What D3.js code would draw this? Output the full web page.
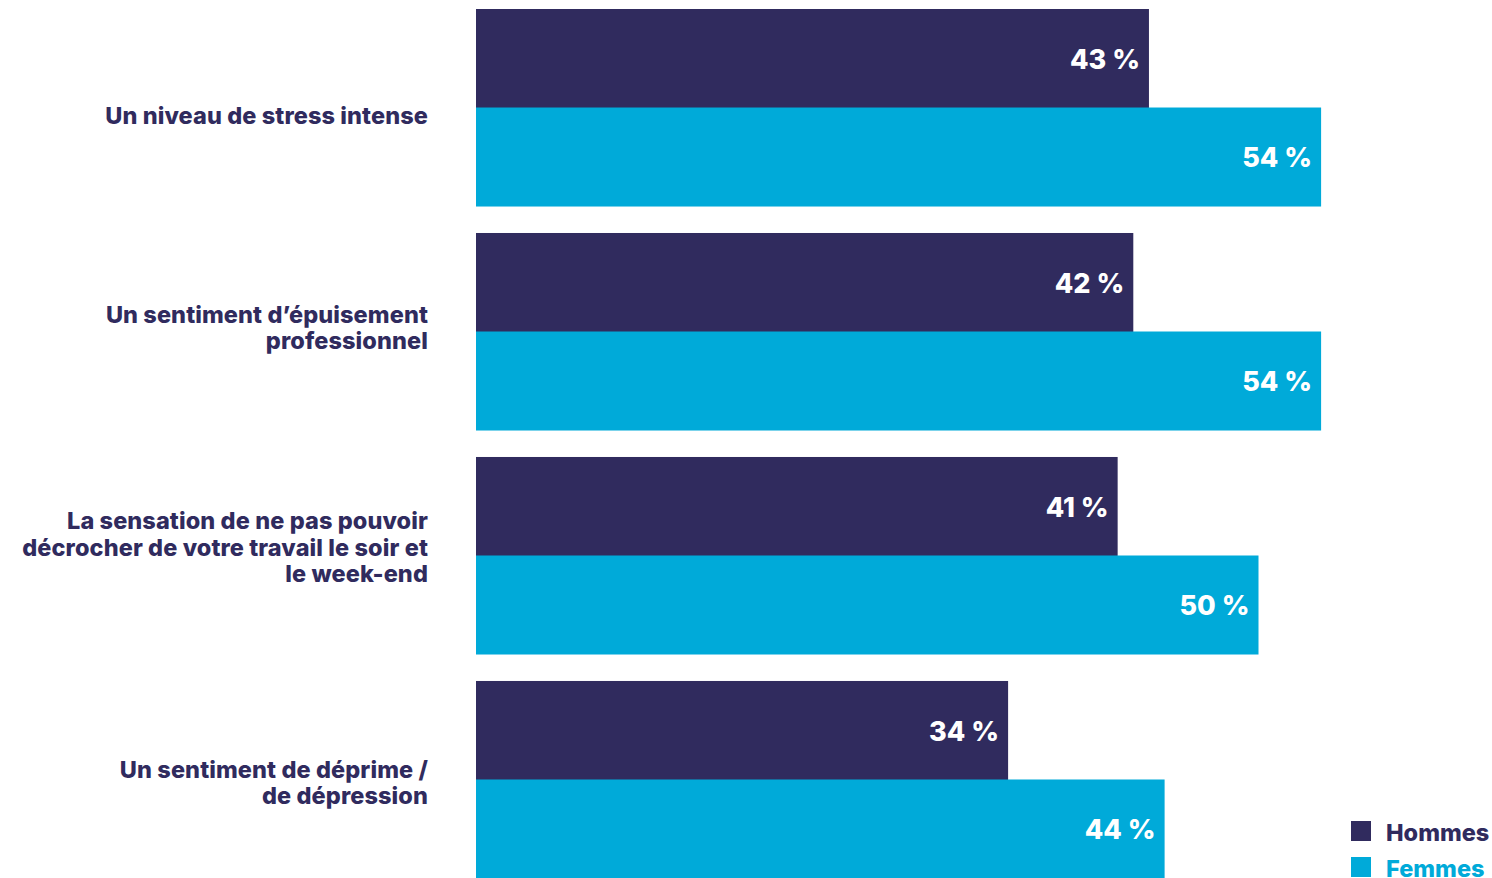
<!DOCTYPE html>
<html>
<head>
<meta charset="utf-8">
<script src="https://cdn.jsdelivr.net/npm/d3@7"></script>
<style>
  html, body { margin: 0; padding: 0; background: #ffffff; }
  svg { display: block; }
  text { font-family: Inter, "Noto Sans", sans-serif; }
</style>
</head>
<body>
<svg id="chart" width="1492" height="878"></svg>
<script>
// Survey items (each label split into its display lines)
const categories = [
  ["Un niveau de stress intense"],
  ["Un sentiment d’épuisement", "professionnel"],
  ["La sensation de ne pas pouvoir", "décrocher de votre travail le soir et", "le week-end"],
  ["Un sentiment de déprime /", "de dépression"]
];
const seriesNames = ["Hommes", "Femmes"];
const hommes = [43, 42, 41, 34];
const femmes = [54, 54, 50, 44];
const colors = ["#302b5e", "#00aad9"];

// Vertical nudge of each category label block (layout only)
const labelNudge = [8, -4, -8, 3];

const svg = d3.select("#chart");

const catKeys = categories.map(c => c.join(" "));
const y0 = d3.scaleBand().domain(catKeys).range([9, 878]).paddingInner(0.1204).paddingOuter(0);
const y1 = d3.scaleBand().domain(seriesNames).range([0, y0.bandwidth()]).padding(0);
const x = d3.scaleLinear().domain([0, 100]).range([476, 476 + 1565]);

const rows = catKeys.map((k, i) => ({ key: k, lines: categories[i], values: [hommes[i], femmes[i]], nudge: labelNudge[i] }));

const groups = svg.selectAll("g.group").data(rows).join("g")
  .attr("class", "group")
  .attr("transform", d => `translate(0,${y0(d.key)})`);

groups.selectAll("rect").data(d => d.values.map((v, j) => ({ v, s: seriesNames[j], j }))).join("rect")
  .attr("x", x(0))
  .attr("y", d => y1(d.s))
  .attr("width", d => x(d.v) - x(0))
  .attr("height", y1.bandwidth() + 0.5)
  .attr("fill", d => colors[d.j]);

groups.selectAll("text.val").data(d => d.values.map((v, j) => ({ v, s: seriesNames[j], j }))).join("text")
  .attr("class", "val")
  .attr("x", d => x(d.v) - 9)
  .attr("y", d => y1(d.s) + y1.bandwidth() / 2 + 1)
  .attr("dy", "0.36em")
  .attr("text-anchor", "end")
  .attr("fill", "#ffffff")
  .attr("font-size", 27)
  .attr("font-weight", 800)
  .text(d => d.v + " %");

// Category labels, right-aligned left of the bars
const lineH = 26.5;
groups.each(function(d) {
  const g = d3.select(this);
  const n = d.lines.length;
  const cy = y0.bandwidth() / 2 + d.nudge;
  const t = g.append("text")
    .attr("text-anchor", "end")
    .attr("fill", "#302b5e")
    .attr("font-size", 23.5)
    .attr("font-weight", 800)
    .attr("letter-spacing", 0.1);
  d.lines.forEach((line, i) => {
    t.append("tspan")
      .attr("x", 428)
      .attr("y", cy + (i - (n - 1) / 2) * lineH)
      .attr("dy", "0.36em")
      .text(line);
  });
});

// Legend
const legend = svg.append("g").attr("transform", "translate(1351,821)");
seriesNames.forEach((s, i) => {
  const row = legend.append("g").attr("transform", `translate(0,${i * 36})`);
  row.append("rect").attr("width", 20).attr("height", 20).attr("fill", colors[i]);
  row.append("text")
    .attr("x", 35).attr("y", 12).attr("dy", "0.36em")
    .attr("fill", colors[i])
    .attr("font-size", 23.5).attr("font-weight", 800)
    .text(s);
});
</script>
</body>
</html>
